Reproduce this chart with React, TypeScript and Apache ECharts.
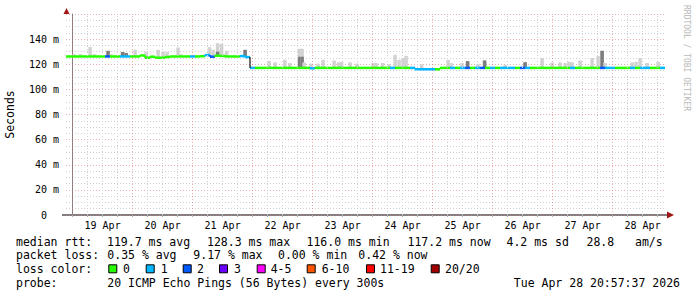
import React, { useEffect, useRef } from "react";
import * as echarts from "echarts";

// ---- time axis (hours from 19 Apr 00:00) ----
const AXIS_MIN_H = -2.64;
const AXIS_MAX_H = 236.96;
const BIN_START_H = -3.04;
const BIN_HOURS = 2;

// median rtt per 2-hour bin (ms)
const medianRtt = [
  126.2, 126.2, 126.2, 126.2, 126.2, 126.2, 126.2, 126.2, 126.2, 126.2,
  126.2, 126.2, 126.2, 126.2, 126.2, 127.0, 125.2, 126.0, 125.2, 125.2,
  125.8, 126.2, 126.2, 126.2, 126.2, 126.2, 126.2, 126.4, 127.3, 126.0,
  126.8, 126.6, 126.2, 126.2, 126.2, 126.5, 125.7, 117.1, 117.1, 117.1,
  117.1, 117.1, 117.1, 117.1, 117.1, 117.1, 117.1, 117.1, 117.1, 116.8,
  117.1, 117.1, 117.1, 117.1, 117.1, 117.1, 117.1, 117.1, 117.1, 117.1,
  117.1, 117.1, 117.1, 117.1, 117.1, 117.1, 117.1, 117.1, 117.1, 117.1,
  116.0, 116.0, 116.0, 116.0, 116.0, 117.1, 117.1, 117.1, 117.1, 117.1,
  117.1, 117.1, 117.1, 117.1, 117.1, 117.1, 117.1, 117.1, 117.1, 117.1,
  117.1, 117.1, 117.1, 117.1, 117.1, 117.1, 117.1, 117.1, 117.1, 117.1,
  117.1, 117.1, 117.1, 117.1, 117.1, 117.1, 117.1, 117.1, 117.1, 117.1,
  117.1, 117.1, 117.1, 117.1, 117.1, 117.1, 117.1, 117.1, 117.1, 117.1,
];

// lost pings (of 20) per bin
const lossCount = [
  0, 0, 0, 0, 0, 0, 0, 0, 2, 0,
  0, 1, 1, 0, 0, 0, 0, 0, 0, 0,
  0, 0, 0, 0, 0, 1, 0, 0, 1, 2,
  0, 0, 0, 0, 0, 1, 1, 1, 0, 0,
  0, 0, 0, 0, 0, 0, 0, 0, 0, 1,
  0, 0, 0, 0, 0, 0, 0, 0, 0, 0,
  0, 0, 0, 0, 0, 1, 0, 0, 0, 1,
  1, 1, 1, 1, 0, 0, 0, 1, 0, 1,
  2, 0, 1, 2, 0, 1, 0, 1, 1, 1,
  0, 2, 1, 0, 0, 0, 0, 0, 0, 0,
  0, 1, 0, 0, 0, 0, 0, 2, 1, 1,
  0, 0, 0, 1, 0, 1, 1, 0, 0, 1,
];

// smoke (ping spread) spikes
const smokeHours = [
  0.6, 3.0, 7.0, 8.8, 14.2, 15.4, 17.8, 20.0, 21.4, 25.0,
  29.4, 34.2, 36.2, 37.8, 42.2, 43.4, 48.2, 53.0, 54.8, 56.2,
  58.0, 59.6, 61.6, 69.0, 78.6, 81.0, 84.9, 86.9, 90.8, 91.8,
  92.6, 95.4, 98.2, 100.2, 104.6, 106.4, 107.6, 111.0, 113.8, 120.2,
  121.4, 124.0, 126.6, 129.0, 130.6, 132.2, 133.4, 139.6, 150.2, 151.4,
  155.8, 158.0, 162.2, 164.8, 173.0, 181.0, 187.8, 191.8, 195.0, 197.0,
  198.6, 199.8, 203.0, 207.8, 210.2, 211.8, 213.0, 223.8, 225.4, 227.0,
  229.8, 234.2,
];
const smokeTop = [
  128.0, 128.0, 133.8, 128.0, 130.7, 128.0, 127.4, 129.7, 129.0, 131.5,
  130.0, 131.5, 130.0, 129.7, 133.3, 128.0, 127.5, 128.0, 133.6, 131.5,
  136.8, 136.2, 130.7, 131.5, 122.7, 121.5, 123.5, 121.0, 132.3, 132.3,
  121.5, 120.5, 120.5, 123.5, 123.0, 121.5, 122.0, 121.5, 120.5, 121.0,
  121.0, 121.0, 120.0, 127.5, 123.5, 125.0, 126.7, 120.0, 123.5, 121.0,
  121.0, 122.5, 120.0, 123.0, 119.5, 121.6, 125.0, 121.4, 121.5, 121.0,
  122.0, 121.5, 123.0, 125.0, 126.5, 130.7, 121.0, 121.5, 122.0, 125.0,
  121.0, 122.0,
];
const smokeDark = [
  0, 0, 0, 0, 130.7, 0, 0, 129.7, 129.0, 0,
  0, 0, 0, 0, 0, 0, 0, 0, 0, 0,
  130.0, 0, 0, 131.5, 0, 0, 0, 0, 126.0, 126.0,
  0, 0, 0, 0, 0, 0, 0, 0, 0, 0,
  0, 0, 0, 0, 0, 0, 0, 0, 0, 0,
  0, 122.5, 0, 123.0, 0, 121.6, 0, 0, 0, 0,
  0, 0, 0, 0, 0, 130.7, 0, 0, 0, 0,
  0, 0,
];

const xLabelHours = [12, 36, 60, 84, 108, 132, 156, 180, 204, 228];
const xLabels = ["19 Apr", "20 Apr", "21 Apr", "22 Apr", "23 Apr", "24 Apr", "25 Apr", "26 Apr", "27 Apr", "28 Apr"];
const yLabels = ["0", "20 m", "40 m", "60 m", "80 m", "100 m", "120 m", "140 m"];

const lossLegendLabels = ["0", "1", "2", "3", "4-5", "6-10", "11-19", "20/20"];
const lossUpper = [0, 1, 2, 3, 5, 10, 19, 20];
const lossColors = ["#26ff00", "#00b8ff", "#0059ff", "#6a00ff", "#ff00ff", "#ff5500", "#ff0000", "#a10000"];

const statRtt = ["119.7 ms avg", "128.3 ms max", "116.0 ms min", "117.2 ms now", "4.2 ms sd", "28.8", "am/s"];
const statLoss = ["0.35 % avg", "9.17 % max", "0.00 % min", "0.42 % now"];
const probeText = "20 ICMP Echo Pings (56 Bytes) every 300s";
const dateText = "Tue Apr 28 20:57:37 2026";

// ---- layout ----
const W = 697;
const H = 297;
const G_LEFT = 66;
const G_TOP = 14;
const G_W = 599;
const G_H = 201;
const MONO = "'DejaVu Sans Mono', monospace";
const LEG_FS = 11.5;

function lossColor(n: number) {
  for (let k = 0; k < lossUpper.length; k++) if (n <= lossUpper[k]) return lossColors[k];
  return lossColors[lossColors.length - 1];
}

function medianAt(h: number) {
  let i = Math.floor((h - BIN_START_H) / BIN_HOURS);
  i = Math.max(0, Math.min(medianRtt.length - 1, i));
  return medianRtt[i];
}

export default function App() {
  const ref = useRef<HTMLDivElement>(null);

  useEffect(() => {
    if (!ref.current) return;
    const chart = echarts.init(ref.current, null, { renderer: "svg" });

    const gridMinor: number[] = [];
    const gridMajor: number[] = [];
    for (let h = 0; h < AXIS_MAX_H; h += 6) {
      if (h % 24 === 0) gridMajor.push(h);
      else gridMinor.push(h);
    }

    const medianData = medianRtt.map((v, i) => [BIN_START_H + i * BIN_HOURS, v, lossCount[i]]);
    const smokeData = smokeHours.map((h, k) => [h, smokeTop[k], smokeDark[k]]);

    const legendY = [241.5, 255, 269.3, 282.7];
    const rttX = [107, 207, 306.5, 407.5, 506.5, 586.5, 635];
    const lossX = [107.3, 193.3, 278, 358.3];
    const boxX = [108.3, 145.7, 182.7, 219, 256.7, 306.7, 366, 430.7];
    const labX = [123, 160.7, 197, 234, 270.7, 321.7, 380, 445];

    const txt = (x: number, y: number, s: string, align = "left") => ({
      type: "text",
      x,
      y,
      silent: true,
      style: {
        text: s,
        fill: "#000",
        font: `${LEG_FS}px ${MONO}`,
        textAlign: align,
        textVerticalAlign: "middle",
      },
    });

    const graphics: any[] = [];
    graphics.push(txt(16, legendY[0], "median rtt:"));
    statRtt.forEach((s, k) => graphics.push(txt(rttX[k], legendY[0], s)));
    graphics.push(txt(16, legendY[1], "packet loss:"));
    statLoss.forEach((s, k) => graphics.push(txt(lossX[k], legendY[1], s)));
    graphics.push(txt(16, legendY[2], "loss color:"));
    lossLegendLabels.forEach((s, k) => {
      graphics.push({
        type: "rect",
        silent: true,
        shape: { x: boxX[k] + 0.5, y: legendY[2] - 4.5, width: 8, height: 8 },
        style: { fill: lossColors[k], stroke: "#000", lineWidth: 1 },
      });
      graphics.push(txt(labX[k], legendY[2], s));
    });
    graphics.push(txt(16, legendY[3], "probe:"));
    graphics.push(txt(107.3, legendY[3], probeText));
    graphics.push(txt(680, legendY[3], dateText, "right"));

    // axis arrows
    graphics.push({
      type: "polygon",
      silent: true,
      shape: { points: [[63.5, G_TOP], [69.5, G_TOP], [66.5, 8]] },
      style: { fill: "#a01818" },
    });
    graphics.push({
      type: "line",
      silent: true,
      shape: { x1: 62, y1: G_TOP + G_H, x2: 668, y2: G_TOP + G_H },
      style: { stroke: "#000", lineWidth: 1 },
    });
    graphics.push({
      type: "polygon",
      silent: true,
      shape: { points: [[667, G_TOP + G_H - 3.5], [667, G_TOP + G_H + 3.5], [674, G_TOP + G_H]] },
      style: { fill: "#a01818" },
    });
    // watermark
    graphics.push({
      type: "text",
      x: 686,
      y: 5,
      rotation: -Math.PI / 2,
      silent: true,
      style: {
        text: "RRDTOOL / TOBI OETIKER",
        fill: "#b8b8b8",
        font: `8px ${MONO}`,
        textAlign: "left",
        textVerticalAlign: "middle",
      },
    });

    const option: any = {
      animation: false,
      backgroundColor: "#ffffff",
      grid: {
        left: G_LEFT,
        top: G_TOP,
        width: G_W,
        height: G_H,
        containLabel: false,
        outerBoundsMode: "none",
      },
      xAxis: {
        type: "value",
        min: AXIS_MIN_H,
        max: AXIS_MAX_H,
        axisLine: { show: false },
        axisTick: {
          show: true,
          customValues: [...gridMajor, ...gridMinor],
          length: 2,
          lineStyle: { color: "#aaa" },
        },
        axisLabel: {
          customValues: xLabelHours,
          formatter: (v: number) => {
            const k = xLabelHours.indexOf(Math.round(v));
            return k >= 0 ? xLabels[k] : "";
          },
          fontFamily: MONO,
          fontSize: 10,
          color: "#000",
          margin: 5,
        },
        splitLine: { show: false },
      },
      yAxis: {
        type: "value",
        min: 0,
        max: 160,
        interval: 20,
        name: "Seconds",
        nameLocation: "middle",
        nameGap: 50,
        nameRotate: 90,
        nameTextStyle: { fontFamily: MONO, fontSize: 11.5, color: "#000" },
        axisLine: { show: true, lineStyle: { color: "#808080", width: 1 } },
        axisTick: { show: false },
        minorTick: { show: false, splitNumber: 4 },
        axisLabel: {
          showMaxLabel: false,
          fontFamily: MONO,
          fontSize: 10,
          color: "#000",
          margin: 7,
          formatter: (v: number) => {
            const k = Math.round(v / 20);
            if (k === 0) return "{z|" + yLabels[0] + "}";
            return yLabels[k] || "";
          },
          rich: { z: { padding: [0, 12, 0, 0], fontFamily: MONO, fontSize: 10, color: "#000" } },
        },
        splitLine: { show: true, lineStyle: { color: "rgba(220,120,120,0.6)", type: [1, 2], width: 1 } },
        minorSplitLine: { show: true, lineStyle: { color: "#cfcfcf", type: [1, 2], width: 1 } },
      },
      series: [
        {
          type: "line",
          data: [],
          z: 1,
          silent: true,
          markLine: {
            silent: true,
            symbol: ["none", "none"],
            label: { show: false },
            animation: false,
            data: [
              ...gridMinor.map((h) => ({ xAxis: h, lineStyle: { color: "#cfcfcf", type: [1, 2], width: 1 } })),
              ...gridMajor.map((h) => ({ xAxis: h, lineStyle: { color: "rgba(220,120,120,0.6)", type: [1, 2], width: 1 } })),
            ],
          },
        },
        {
          type: "custom",
          z: 2,
          silent: true,
          clip: true,
          data: smokeData,
          renderItem: (params: any, api: any) => {
            const h = api.value(0);
            const top = api.value(1);
            const dark = api.value(2);
            const base = medianAt(h);
            const pb = api.coord([h, base]);
            const pt = api.coord([h, top]);
            const w = 3.5;
            const children: any[] = [
              {
                type: "rect",
                shape: { x: pb[0] - w / 2, y: pt[1], width: w, height: pb[1] - pt[1] },
                style: { fill: "#d2d2d2" },
              },
            ];
            if (dark > 0) {
              const pd = api.coord([h, dark]);
              children.push({
                type: "rect",
                shape: { x: pb[0] - w / 2, y: pd[1], width: w, height: pb[1] - pd[1] },
                style: { fill: "#7c7c7c" },
              });
            }
            return { type: "group", children };
          },
        },
        {
          type: "custom",
          z: 3,
          silent: true,
          clip: true,
          data: medianData,
          renderItem: (params: any, api: any) => {
            const i = params.dataIndex;
            const h0 = api.value(0);
            const v = api.value(1);
            const loss = api.value(2);
            const p0 = api.coord([h0, v]);
            const p1 = api.coord([h0 + BIN_HOURS, v]);
            const color = lossColor(loss);
            const children: any[] = [
              {
                type: "rect",
                shape: { x: p0[0], y: p0[1] - 1.25, width: p1[0] - p0[0], height: 2.5 },
                style: { fill: color },
              },
            ];
            if (i > 0) {
              const prev = medianRtt[i - 1];
              if (prev !== v) {
                const pp = api.coord([h0, prev]);
                const big = Math.abs(prev - v) > 3;
                children.push({
                  type: "line",
                  shape: { x1: p0[0], y1: pp[1], x2: p0[0], y2: p0[1] },
                  style: { stroke: big ? "#111" : color, lineWidth: big ? 1.2 : 2.5 },
                });
              }
            }
            return { type: "group", children };
          },
        },
      ],
      graphic: graphics,
    };

    chart.setOption(option);
    return () => chart.dispose();
  }, []);

  return (
    <div
      ref={ref}
      style={{ position: "absolute", left: 0, top: 0, width: W, height: H, background: "#fff" }}
    />
  );
}
